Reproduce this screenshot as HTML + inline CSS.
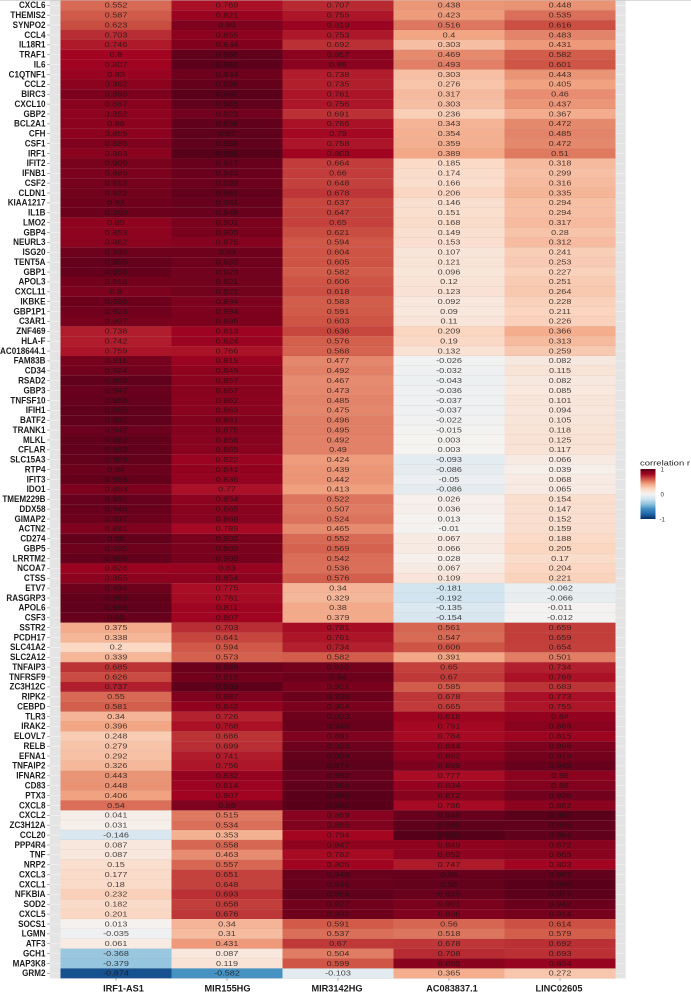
<!DOCTYPE html>
<html>
<head>
<meta charset="utf-8">
<title>Correlation heatmap</title>
<style>
html,body{margin:0;padding:0;background:#fff;width:691px;height:992px;overflow:hidden}
svg{display:block;filter:blur(0.3px)}
text{font-family:"Liberation Sans",sans-serif}
</style>
</head>
<body>
<svg id="chart" width="691" height="992" viewBox="0 0 691 992" xmlns="http://www.w3.org/2000/svg">
  <defs>
    <linearGradient id="legend-gradient" x1="0" y1="0" x2="0" y2="1"></linearGradient>
  </defs>
  <g id="panel"></g>
  <g id="cells"></g>
  <g id="values"></g>
  <g id="y-axis"></g>
  <g id="x-axis"></g>
  <g>
    <text x="640" y="465.5" font-size="7.2" fill="#222" textLength="50" lengthAdjust="spacingAndGlyphs">correlation r</text>
    <rect x="640.5" y="469" width="15" height="50" fill="url(#legend-gradient)"></rect>
    <text x="660.5" y="471.5" font-size="6.2" fill="#333">1</text>
    <text x="660.5" y="496.5" font-size="6.2" fill="#333">0</text>
    <text x="659.5" y="521.5" font-size="6.2" fill="#333">-1</text>
  </g>
</svg>
<script>
const columns = ["IRF1-AS1","MIR155HG","MIR3142HG","AC083837.1","LINC02605"];
const genes = ["CXCL6","THEMIS2","SYNPO2","CCL4","IL18R1","TRAF1","IL6","C1QTNF1","CCL2","BIRC3","CXCL10","GBP2","BCL2A1","CFH","CSF1","IRF1","IFIT2","IFNB1","CSF2","CLDN1","KIAA1217","IL1B","LMO2","GBP4","NEURL3","ISG20","TENT5A","GBP1","APOL3","CXCL11","IKBKE","GBP1P1","C3AR1","ZNF469","HLA-F","AC018644.1","FAM83B","CD34","RSAD2","GBP3","TNFSF10","IFIH1","BATF2","TRANK1","MLKL","CFLAR","SLC15A3","RTP4","IFIT3","IDO1","TMEM229B","DDX58","GIMAP2","ACTN2","CD274","GBP5","LRRTM2","NCOA7","CTSS","ETV7","RASGRP3","APOL6","CSF3","SSTR2","PCDH17","SLC41A2","SLC2A12","TNFAIP3","TNFRSF9","ZC3H12C","RIPK2","CEBPD","TLR3","IRAK2","ELOVL7","RELB","EFNA1","TNFAIP2","IFNAR2","CD83","PTX3","CXCL8","CXCL2","ZC3H12A","CCL20","PPP4R4","TNF","NRP2","CXCL3","CXCL1","NFKBIA","SOD2","CXCL5","SOCS1","LGMN","ATF3","GCH1","MAP3K8","GRM2"];
const irf1As1 = [0.552,0.587,0.623,0.703,0.746,0.8,0.807,0.83,0.862,0.895,0.867,0.852,0.86,0.855,0.885,0.863,0.906,0.895,0.912,0.922,0.93,0.939,0.85,0.853,0.862,0.935,0.955,0.958,0.916,0.9,0.936,0.925,0.907,0.738,0.742,0.759,0.911,0.924,0.965,0.947,0.956,0.965,0.967,0.942,0.962,0.962,0.959,0.94,0.958,0.893,0.951,0.946,0.937,0.891,0.96,0.935,0.956,0.824,0.855,0.934,0.963,0.966,0.95,0.375,0.338,0.2,0.339,0.685,0.626,0.737,0.55,0.581,0.34,0.396,0.248,0.279,0.292,0.326,0.443,0.448,0.406,0.54,0.041,0.031,-0.146,0.087,0.087,0.15,0.177,0.18,0.232,0.182,0.201,0.013,-0.035,0.061,-0.368,-0.379,-0.874];
const mir155hg = [0.769,0.821,0.89,0.855,0.884,0.966,0.981,0.934,0.958,0.982,0.965,0.923,0.968,0.97,0.968,0.989,0.947,0.943,0.939,0.961,0.951,0.948,0.901,0.905,0.875,0.93,0.932,0.923,0.921,0.921,0.894,0.894,0.896,0.813,0.824,0.766,0.819,0.849,0.857,0.867,0.862,0.863,0.881,0.875,0.868,0.865,0.823,0.841,0.836,0.77,0.854,0.865,0.868,0.789,0.902,0.902,0.909,0.83,0.854,0.775,0.781,0.811,0.807,0.703,0.641,0.594,0.573,0.938,0.919,0.969,0.887,0.842,0.726,0.768,0.686,0.699,0.741,0.756,0.832,0.814,0.807,0.89,0.515,0.534,0.353,0.558,0.463,0.557,0.651,0.648,0.693,0.658,0.676,0.34,0.31,0.431,0.087,0.119,-0.582];
const mir3142hg = [0.707,0.755,0.819,0.753,0.692,0.857,0.86,0.738,0.735,0.761,0.756,0.691,0.766,0.79,0.758,0.808,0.664,0.66,0.648,0.678,0.637,0.647,0.65,0.621,0.594,0.604,0.605,0.582,0.606,0.618,0.583,0.591,0.603,0.636,0.576,0.568,0.477,0.492,0.467,0.473,0.485,0.475,0.496,0.495,0.492,0.49,0.424,0.439,0.442,0.413,0.522,0.507,0.524,0.465,0.552,0.569,0.542,0.536,0.576,0.34,0.329,0.38,0.379,0.781,0.761,0.734,0.582,0.916,0.94,0.901,0.939,0.904,0.933,0.946,0.891,0.933,0.959,0.974,0.952,0.964,0.983,0.982,0.869,0.885,0.794,0.847,0.782,0.806,0.948,0.945,0.964,0.927,0.932,0.591,0.537,0.67,0.504,0.599,-0.103];
const ac083837 = [0.438,0.423,0.516,0.4,0.303,0.469,0.493,0.303,0.276,0.317,0.303,0.236,0.343,0.354,0.359,0.389,0.185,0.174,0.166,0.206,0.146,0.151,0.168,0.149,0.153,0.107,0.121,0.096,0.12,0.123,0.092,0.09,0.11,0.209,0.19,0.132,-0.026,-0.032,-0.043,-0.036,-0.037,-0.037,-0.022,-0.015,0.003,0.003,-0.093,-0.086,-0.05,-0.086,0.026,0.036,0.013,-0.01,0.067,0.066,0.028,0.067,0.109,-0.181,-0.192,-0.135,-0.154,0.561,0.547,0.606,0.391,0.65,0.67,0.585,0.678,0.665,0.818,0.791,0.784,0.844,0.862,0.899,0.777,0.834,0.872,0.786,0.949,0.969,0.992,0.849,0.852,0.747,0.95,0.96,0.945,0.901,0.886,0.56,0.518,0.678,0.708,0.865,0.365];
const linc02605 = [0.448,0.535,0.616,0.483,0.431,0.582,0.601,0.443,0.405,0.46,0.437,0.367,0.472,0.485,0.472,0.51,0.318,0.299,0.316,0.335,0.294,0.294,0.317,0.28,0.312,0.241,0.253,0.227,0.251,0.264,0.228,0.211,0.226,0.366,0.313,0.259,0.082,0.115,0.082,0.085,0.101,0.094,0.105,0.118,0.125,0.117,0.066,0.039,0.068,0.065,0.154,0.147,0.152,0.159,0.188,0.205,0.17,0.204,0.221,-0.062,-0.066,-0.011,-0.012,0.659,0.659,0.654,0.501,0.734,0.768,0.683,0.773,0.755,0.84,0.866,0.815,0.896,0.916,0.949,0.86,0.88,0.926,0.862,0.982,0.965,0.964,0.872,0.865,0.803,0.967,0.985,0.977,0.942,0.914,0.614,0.579,0.692,0.693,0.834,0.272];
const seriesValues = [irf1As1, mir155hg, mir3142hg, ac083837, linc02605];
const colorDomain = [-1,-0.8,-0.6,-0.4,-0.2,0,0.2,0.4,0.6,0.8,1];
const colorRange = ["#053061","#2166AC","#3F8DC0","#8FC2DD","#CFE3EF","#F5F3F1","#FBD8C4","#F2A583","#CF5646","#A30421","#54001A"];

const SVGNS = "http://www.w3.org/2000/svg";
const plotLeft = 60.5, columnWidth = 111, plotTop = 0.4, rowHeight = 9.878;
const panelLeft = 49.7, panelRight = 625.7, panelBottom = 978.4;

function xScale(i){ return plotLeft + i * columnWidth; }
function yScale(i){ return plotTop + i * rowHeight; }
function hexToRgb(h){ return [1,3,5].map(function(p){ return parseInt(h.substr(p,2),16); }); }
function colorScale(v){
  const clamped = Math.max(-1, Math.min(1, v));
  let k = 0;
  while (k < colorDomain.length - 2 && clamped > colorDomain[k+1]) k++;
  const t = (clamped - colorDomain[k]) / (colorDomain[k+1] - colorDomain[k]);
  const a = hexToRgb(colorRange[k]), b = hexToRgb(colorRange[k+1]);
  return "rgb(" + a.map(function(c,n){ return Math.round(c + (b[n]-c)*t); }).join(",") + ")";
}
function make(tag, parent){
  const el = document.createElementNS(SVGNS, tag);
  parent.appendChild(el);
  return el;
}

const panel = document.getElementById("panel");
const cellsGroup = document.getElementById("cells");
const valuesGroup = document.getElementById("values");
const yAxis = document.getElementById("y-axis");
const xAxis = document.getElementById("x-axis");

const bg = make("rect", panel);


bg.setAttribute("x", panelLeft);
bg.setAttribute("y", 0);
bg.setAttribute("width", panelRight - panelLeft);
bg.setAttribute("height", panelBottom);
bg.setAttribute("fill", "#e4e4e4");

const topLine = make("rect", panel);


topLine.setAttribute("x", 0);
topLine.setAttribute("y", 0);
topLine.setAttribute("width", 691);
topLine.setAttribute("height", 0.7);
topLine.setAttribute("fill", "#c9c9c9");

genes.forEach(function(gene, r){
  const cy = yScale(r) + rowHeight / 2;

  const grid = make("line", panel);
  
  
  grid.setAttribute("x1", panelLeft);
  grid.setAttribute("x2", panelRight);
  grid.setAttribute("y1", cy);
  grid.setAttribute("y2", cy);
  grid.setAttribute("stroke", "#f4f4f4");
  grid.setAttribute("stroke-width", 0.6);

  const tick = make("line", yAxis);
  
  
  tick.setAttribute("x1", 47.2);
  tick.setAttribute("x2", 49.7);
  tick.setAttribute("y1", cy);
  tick.setAttribute("y2", cy);
  tick.setAttribute("stroke", "#666");
  tick.setAttribute("stroke-width", 0.6);

  const label = make("text", yAxis);
  
  
  label.setAttribute("transform", "translate(45.5," + (cy + 2.8) + ") scale(1,1.15)");
  label.setAttribute("text-anchor", "end");
  label.setAttribute("font-size", 8.1);
  label.setAttribute("font-weight", "bold");
  label.setAttribute("fill", "#1c1c1c");
  label.textContent = gene;

  seriesValues.forEach(function(series, c){
    const v = series[r];

    const cell = make("rect", cellsGroup);
    
    
    cell.setAttribute("x", xScale(c));
    cell.setAttribute("y", yScale(r));
    cell.setAttribute("width", columnWidth);
    cell.setAttribute("height", rowHeight);
    cell.setAttribute("fill", colorScale(v));

    const sep = make("line", cellsGroup);
    
    
    sep.setAttribute("x1", xScale(c));
    sep.setAttribute("x2", xScale(c) + columnWidth);
    sep.setAttribute("y1", yScale(r) + rowHeight);
    sep.setAttribute("y2", yScale(r) + rowHeight);
    sep.setAttribute("stroke", "rgba(60,0,0,0.10)");
    sep.setAttribute("stroke-width", 0.7);

    const txt = make("text", valuesGroup);
    
    
    txt.setAttribute("transform", "translate(" + (xScale(c) + columnWidth / 2) + "," + (cy + 2.3) + ") scale(1.3,1)");
    txt.setAttribute("text-anchor", "middle");
    txt.setAttribute("font-size", 7);
    txt.setAttribute("fill", "rgba(25,20,20,0.8)");
    txt.textContent = String(v);
  });
});

columns.forEach(function(name, c){
  const cx = xScale(c) + columnWidth / 2;

  const tick = make("line", xAxis);
  
  
  tick.setAttribute("x1", cx);
  tick.setAttribute("x2", cx);
  tick.setAttribute("y1", panelBottom);
  tick.setAttribute("y2", panelBottom + 2.2);
  tick.setAttribute("stroke", "#666");
  tick.setAttribute("stroke-width", 0.6);

  const labelNudge = c === 0 ? 7.5 : c === 3 ? 3 : c === 1 ? 0.5 : -1;
  const label = make("text", xAxis);
  
  
  label.setAttribute("x", cx + labelNudge);
  label.setAttribute("y", 991.5);
  label.setAttribute("text-anchor", "middle");
  label.setAttribute("font-size", 9.2);
  label.setAttribute("font-weight", "bold");
  label.setAttribute("fill", "#1c1c1c");
  label.textContent = name;
});

const gradient = document.getElementById("legend-gradient");
colorDomain.slice().reverse().forEach(function(d){
  const stop = make("stop", gradient);
  stop.setAttribute("offset", ((1 - d) / 2 * 100) + "%");
  stop.setAttribute("stop-color", colorScale(d));
});
</script>
</body>
</html>
